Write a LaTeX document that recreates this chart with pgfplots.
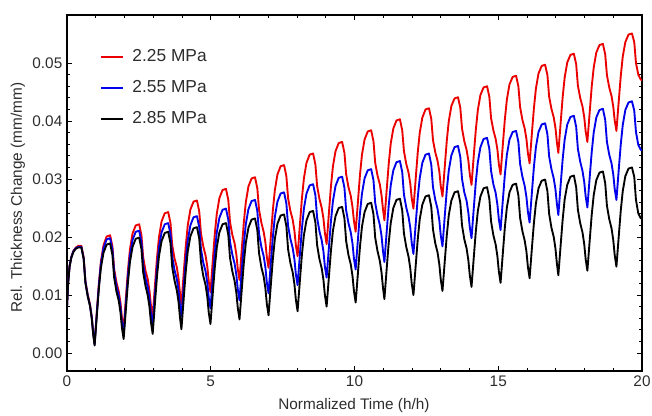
\documentclass[border=0pt]{standalone}
\usepackage{fontspec}
\setmainfont{Liberation Sans}
\usepackage{pgfplots}
\usepackage{pgfplotstable}
\pgfplotsset{compat=1.18}
\definecolor{cred}{RGB}{235,0,0}
\definecolor{cblue}{RGB}{0,0,235}
\definecolor{labgray}{RGB}{45,45,45}
\pgfplotstableread{
x r b k
0.00 0.0080 0.0080 0.0080
0.04 0.0122 0.0122 0.0121
0.09 0.0150 0.0150 0.0149
0.15 0.0166 0.0165 0.0164
0.22 0.0176 0.0175 0.0174
0.31 0.0182 0.0181 0.0180
0.40 0.0185 0.0183 0.0182
0.50 0.0185 0.0183 0.0182
0.58 0.0165 0.0163 0.0162
0.64 0.0124 0.0123 0.0121
0.72 0.0101 0.0099 0.0098
0.80 0.0084 0.0082 0.0081
0.86 0.0063 0.0062 0.0060
0.91 0.0036 0.0035 0.0033
0.96 0.0016 0.0015 0.0013
1.05 0.0080 0.0077 0.0073
1.11 0.0121 0.0117 0.0112
1.18 0.0158 0.0154 0.0147
1.27 0.0186 0.0181 0.0173
1.38 0.0201 0.0196 0.0187
1.50 0.0203 0.0198 0.0189
1.58 0.0184 0.0178 0.0169
1.64 0.0145 0.0139 0.0130
1.72 0.0122 0.0115 0.0106
1.80 0.0106 0.0099 0.0090
1.86 0.0087 0.0079 0.0070
1.91 0.0061 0.0053 0.0044
1.97 0.0042 0.0033 0.0024
2.06 0.0103 0.0093 0.0083
2.12 0.0143 0.0133 0.0122
2.19 0.0179 0.0168 0.0157
2.28 0.0206 0.0195 0.0183
2.39 0.0220 0.0209 0.0197
2.51 0.0222 0.0211 0.0199
2.59 0.0203 0.0191 0.0179
2.65 0.0165 0.0152 0.0139
2.73 0.0142 0.0129 0.0116
2.81 0.0127 0.0113 0.0099
2.87 0.0107 0.0094 0.0079
2.92 0.0082 0.0068 0.0053
2.98 0.0063 0.0048 0.0033
3.07 0.0124 0.0108 0.0093
3.13 0.0164 0.0147 0.0132
3.20 0.0200 0.0182 0.0167
3.29 0.0227 0.0208 0.0193
3.40 0.0241 0.0222 0.0207
3.52 0.0243 0.0224 0.0209
3.60 0.0224 0.0205 0.0189
3.66 0.0186 0.0166 0.0148
3.74 0.0163 0.0143 0.0125
3.82 0.0148 0.0127 0.0108
3.88 0.0128 0.0108 0.0088
3.93 0.0103 0.0082 0.0061
3.98 0.0084 0.0063 0.0041
4.07 0.0145 0.0122 0.0101
4.13 0.0184 0.0160 0.0140
4.20 0.0220 0.0194 0.0175
4.29 0.0247 0.0220 0.0201
4.40 0.0261 0.0234 0.0215
4.52 0.0263 0.0236 0.0217
4.60 0.0244 0.0217 0.0197
4.66 0.0206 0.0179 0.0157
4.74 0.0184 0.0156 0.0133
4.82 0.0168 0.0141 0.0117
4.88 0.0149 0.0121 0.0097
4.93 0.0124 0.0096 0.0070
4.99 0.0105 0.0077 0.0050
5.08 0.0166 0.0135 0.0109
5.14 0.0205 0.0173 0.0147
5.21 0.0240 0.0208 0.0182
5.30 0.0267 0.0233 0.0208
5.41 0.0281 0.0247 0.0222
5.53 0.0283 0.0249 0.0224
5.61 0.0264 0.0230 0.0204
5.67 0.0226 0.0192 0.0164
5.75 0.0204 0.0170 0.0141
5.83 0.0189 0.0154 0.0124
5.89 0.0170 0.0135 0.0104
5.94 0.0145 0.0110 0.0078
6.00 0.0126 0.0091 0.0058
6.09 0.0186 0.0150 0.0117
6.15 0.0225 0.0188 0.0155
6.22 0.0260 0.0222 0.0190
6.31 0.0287 0.0248 0.0216
6.42 0.0301 0.0262 0.0230
6.54 0.0303 0.0264 0.0232
6.62 0.0284 0.0245 0.0212
6.68 0.0247 0.0206 0.0172
6.76 0.0225 0.0183 0.0148
6.84 0.0209 0.0167 0.0132
6.90 0.0191 0.0148 0.0112
6.95 0.0166 0.0122 0.0085
7.01 0.0147 0.0103 0.0065
7.10 0.0207 0.0162 0.0124
7.16 0.0246 0.0200 0.0162
7.23 0.0281 0.0235 0.0197
7.32 0.0308 0.0261 0.0223
7.43 0.0322 0.0275 0.0237
7.55 0.0324 0.0277 0.0239
7.63 0.0305 0.0258 0.0219
7.69 0.0267 0.0219 0.0179
7.77 0.0245 0.0197 0.0155
7.85 0.0230 0.0181 0.0139
7.91 0.0211 0.0162 0.0119
7.96 0.0186 0.0136 0.0092
8.02 0.0167 0.0117 0.0072
8.11 0.0227 0.0176 0.0131
8.17 0.0266 0.0214 0.0169
8.24 0.0301 0.0249 0.0203
8.33 0.0328 0.0275 0.0229
8.44 0.0342 0.0289 0.0243
8.56 0.0344 0.0291 0.0245
8.64 0.0325 0.0272 0.0225
8.70 0.0288 0.0233 0.0186
8.78 0.0266 0.0210 0.0162
8.86 0.0250 0.0194 0.0146
8.92 0.0232 0.0175 0.0126
8.97 0.0207 0.0149 0.0100
9.03 0.0188 0.0130 0.0080
9.12 0.0248 0.0189 0.0138
9.18 0.0287 0.0227 0.0176
9.25 0.0322 0.0262 0.0211
9.34 0.0348 0.0288 0.0236
9.45 0.0362 0.0302 0.0250
9.57 0.0364 0.0304 0.0252
9.65 0.0345 0.0285 0.0232
9.71 0.0308 0.0246 0.0193
9.79 0.0286 0.0224 0.0169
9.87 0.0271 0.0208 0.0153
9.93 0.0252 0.0189 0.0133
9.98 0.0228 0.0163 0.0107
10.04 0.0209 0.0144 0.0087
10.13 0.0268 0.0203 0.0145
10.19 0.0307 0.0241 0.0183
10.26 0.0342 0.0275 0.0218
10.35 0.0368 0.0301 0.0243
10.46 0.0382 0.0315 0.0257
10.58 0.0384 0.0317 0.0259
10.66 0.0365 0.0298 0.0239
10.72 0.0328 0.0259 0.0199
10.80 0.0306 0.0237 0.0176
10.88 0.0291 0.0221 0.0159
10.94 0.0272 0.0202 0.0139
10.99 0.0248 0.0176 0.0113
11.04 0.0229 0.0157 0.0093
11.13 0.0288 0.0216 0.0152
11.19 0.0326 0.0254 0.0190
11.26 0.0361 0.0289 0.0224
11.35 0.0387 0.0315 0.0250
11.46 0.0401 0.0329 0.0264
11.58 0.0403 0.0331 0.0266
11.66 0.0384 0.0312 0.0246
11.72 0.0348 0.0273 0.0206
11.80 0.0326 0.0251 0.0183
11.88 0.0311 0.0235 0.0166
11.94 0.0292 0.0216 0.0146
11.99 0.0267 0.0190 0.0120
12.05 0.0249 0.0171 0.0100
12.14 0.0308 0.0230 0.0158
12.20 0.0346 0.0268 0.0196
12.27 0.0380 0.0302 0.0231
12.36 0.0406 0.0328 0.0256
12.47 0.0420 0.0342 0.0270
12.59 0.0422 0.0344 0.0272
12.67 0.0404 0.0325 0.0252
12.73 0.0367 0.0286 0.0213
12.81 0.0346 0.0264 0.0189
12.89 0.0331 0.0248 0.0173
12.95 0.0313 0.0229 0.0153
13.00 0.0288 0.0203 0.0127
13.06 0.0270 0.0184 0.0107
13.15 0.0328 0.0243 0.0165
13.21 0.0366 0.0281 0.0203
13.28 0.0400 0.0315 0.0238
13.37 0.0426 0.0341 0.0263
13.48 0.0439 0.0355 0.0277
13.60 0.0441 0.0357 0.0279
13.68 0.0423 0.0338 0.0259
13.74 0.0387 0.0300 0.0220
13.82 0.0365 0.0277 0.0196
13.90 0.0350 0.0262 0.0180
13.96 0.0332 0.0242 0.0160
14.01 0.0308 0.0217 0.0134
14.07 0.0290 0.0198 0.0114
14.16 0.0348 0.0257 0.0172
14.22 0.0385 0.0295 0.0210
14.29 0.0419 0.0329 0.0245
14.38 0.0445 0.0355 0.0270
14.49 0.0458 0.0369 0.0284
14.61 0.0460 0.0371 0.0286
14.69 0.0442 0.0352 0.0266
14.75 0.0405 0.0314 0.0227
14.83 0.0384 0.0291 0.0203
14.91 0.0369 0.0276 0.0187
14.97 0.0351 0.0256 0.0167
15.02 0.0326 0.0231 0.0141
15.08 0.0308 0.0212 0.0121
15.17 0.0366 0.0270 0.0179
15.23 0.0403 0.0308 0.0217
15.30 0.0437 0.0342 0.0251
15.39 0.0463 0.0368 0.0277
15.50 0.0476 0.0381 0.0290
15.62 0.0478 0.0383 0.0292
15.70 0.0460 0.0364 0.0272
15.76 0.0424 0.0326 0.0233
15.84 0.0402 0.0304 0.0210
15.92 0.0387 0.0288 0.0194
15.98 0.0369 0.0269 0.0175
16.03 0.0345 0.0244 0.0149
16.09 0.0327 0.0225 0.0129
16.18 0.0385 0.0283 0.0187
16.24 0.0422 0.0321 0.0224
16.31 0.0456 0.0355 0.0258
16.40 0.0482 0.0381 0.0284
16.51 0.0495 0.0394 0.0297
16.63 0.0497 0.0396 0.0299
16.71 0.0479 0.0377 0.0279
16.77 0.0442 0.0339 0.0240
16.85 0.0421 0.0317 0.0216
16.93 0.0406 0.0301 0.0200
16.99 0.0388 0.0282 0.0180
17.04 0.0363 0.0257 0.0154
17.09 0.0345 0.0238 0.0134
17.18 0.0403 0.0296 0.0192
17.24 0.0441 0.0334 0.0230
17.31 0.0475 0.0368 0.0265
17.40 0.0501 0.0394 0.0290
17.51 0.0514 0.0407 0.0304
17.63 0.0516 0.0409 0.0306
17.71 0.0498 0.0390 0.0286
17.77 0.0461 0.0352 0.0247
17.85 0.0440 0.0330 0.0224
17.93 0.0425 0.0314 0.0208
17.99 0.0407 0.0295 0.0188
18.04 0.0382 0.0270 0.0162
18.10 0.0364 0.0251 0.0142
18.19 0.0421 0.0309 0.0200
18.25 0.0459 0.0346 0.0238
18.32 0.0492 0.0380 0.0272
18.41 0.0518 0.0406 0.0298
18.52 0.0531 0.0419 0.0311
18.64 0.0533 0.0421 0.0313
18.72 0.0515 0.0402 0.0293
18.78 0.0479 0.0364 0.0254
18.86 0.0458 0.0342 0.0231
18.94 0.0443 0.0327 0.0215
19.00 0.0425 0.0308 0.0195
19.05 0.0401 0.0283 0.0169
19.11 0.0383 0.0264 0.0149
19.20 0.0440 0.0322 0.0207
19.26 0.0477 0.0359 0.0245
19.33 0.0511 0.0393 0.0279
19.42 0.0536 0.0419 0.0305
19.53 0.0549 0.0432 0.0318
19.65 0.0551 0.0434 0.0320
19.73 0.0536 0.0418 0.0304
19.79 0.0500 0.0381 0.0264
19.87 0.0480 0.0359 0.0241
19.95 0.0472 0.0351 0.0233
20.00 0.0470 0.0349 0.0231
}\data
\begin{document}
\begin{tikzpicture}
\begin{axis}[
  scale only axis, width=431.25pt, height=267pt,
  xmin=0, xmax=20, ymin=-0.0031, ymax=0.05828,
  axis line style={line width=1.1pt, black},
  xtick={0,5,10,15,20}, minor x tick num=4,
  ytick={0,0.01,0.02,0.03,0.04,0.05}, minor y tick num=4,
  tick align=inside, tick pos=both,
  tick style={black, line width=0.7pt},
  major tick length=3.5pt, minor tick length=2pt,
  scaled y ticks=false,
  /pgf/number format/assume math mode=true,
  yticklabel style={/pgf/number format/.cd, fixed, fixed zerofill, precision=2},
  tick label style={font=\fontsize{11.5}{13}\selectfont, text=labgray},
  label style={font=\fontsize{11.5}{13}\selectfont, text=labgray},
  xlabel={Normalized Time (h/h)},
  ylabel={Rel. Thickness Change (mm/mm)},
  xlabel style={at={(axis description cs:0.499,-0.0983)}, anchor=center},
  ylabel style={at={(axis description cs:-0.0852,0.487)}, anchor=center},
  legend style={draw=none, fill=none, inner sep=0pt,
    at={(axis description cs:0.0574,0.9077)}, anchor=north west,
    font=\fontsize{13}{15}\selectfont, row sep=10.25pt,
    nodes={inner sep=0pt, text height=10pt, text depth=3pt, text=labgray},
    /tikz/every odd column/.append style={column sep=6.75pt}},
  legend cell align=left,
  legend image code/.code={\draw[#1] (0pt,0pt) -- (16pt,0pt);},
]
\coordinate (sw) at (rel axis cs:0,0);
\coordinate (ne) at (rel axis cs:1,1);
\addplot[cred, line width=1.4pt, line join=round] table[x=x, y=r] {\data};
\addlegendentry{2.25 MPa}
\addplot[cblue, line width=1.4pt, line join=round] table[x=x, y=b] {\data};
\addlegendentry{2.55 MPa}
\addplot[black, line width=1.4pt, line join=round] table[x=x, y=k] {\data};
\addlegendentry{2.85 MPa}
\end{axis}
\pgfresetboundingbox
\useasboundingbox ([shift={(-50.25pt,-33pt)}]sw) rectangle ([shift={(7.5pt,11.25pt)}]ne);
\end{tikzpicture}
\end{document}
